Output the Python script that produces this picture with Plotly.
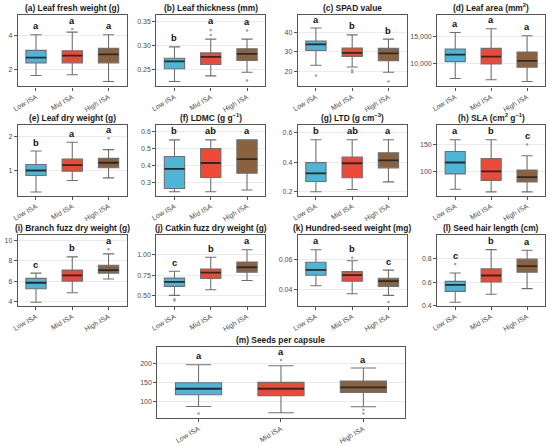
import plotly.graph_objects as go

# groups and fill colours
groups = ["Low ISA", "Mid ISA", "High ISA"]
colors = ["#4DB5D8", "#EE4836", "#8A6240"]

# box stats per group: [lower whisker, q1, median, q3, upper whisker]
leaf_fresh = [[1.67, 2.41, 2.72, 3.14, 4.06], [1.71, 2.41, 2.83, 3.12, 4.21], [1.32, 2.41, 2.91, 3.26, 4.06]]
leaf_fresh_out = [[], [4.39], []]
leaf_fresh_sig = ["a", "a", "a"]

leaf_thick = [[0.224, 0.251, 0.2664, 0.2733, 0.2972], [0.236, 0.260, 0.276, 0.2845, 0.3136], [0.2437, 0.2683, 0.2822, 0.2933, 0.3136]]
leaf_thick_out = [[], [0.333, 0.322], [0.332, 0.2262]]
leaf_thick_sig = ["b", "a", "a"]

spad = [[23.1, 30.7, 33.9, 35.6, 42.3], [22.2, 27.6, 29.5, 32.0, 38.8], [19.5, 25.5, 29.2, 31.8, 36.6]]
spad_out = [[17.8], [20.5, 19.5], [14.7]]
spad_sig = ["a", "b", "b"]

leaf_area = [[7340, 10420, 11680, 12710, 15720], [7100, 10000, 11320, 12820, 16390], [6800, 9390, 10540, 12170, 15120]]
leaf_area_out = [[], [], []]
leaf_area_sig = ["a", "a", "a"]

leaf_dry = [[0.36, 0.85, 1.0, 1.18, 1.58], [0.70, 0.98, 1.16, 1.34, 1.84], [0.78, 1.08, 1.23, 1.36, 1.62]]
leaf_dry_out = [[], [], [1.96]]
leaf_dry_sig = ["b", "a", "a"]

ldmc = [[0.247, 0.266, 0.381, 0.453, 0.55], [0.247, 0.33, 0.415, 0.50, 0.55], [0.257, 0.355, 0.437, 0.55, 0.55]]
ldmc_out = [[], [], []]
ldmc_sig = ["b", "ab", "a"]

ltd = [[0.20, 0.269, 0.324, 0.396, 0.55], [0.215, 0.294, 0.392, 0.433, 0.55], [0.267, 0.361, 0.411, 0.462, 0.55]]
ltd_out = [[], [], []]
ltd_sig = ["b", "ab", "a"]

sla = [[66, 95, 116.7, 137.6, 159.8], [61, 82.7, 100, 124, 159.8], [61, 79.6, 88.9, 102.5, 129.6]]
sla_out = [[], [], [151]]
sla_sig = ["a", "b", "c"]

branch_fuzz = [[3.97, 5.29, 5.87, 6.29, 6.81], [4.9, 6.03, 6.58, 7.1, 8.39], [6.23, 6.81, 7.1, 7.58, 8.68]]
branch_fuzz_out = [[], [], [9.13]]
branch_fuzz_sig = ["c", "b", "a"]

catkin_fuzz = [[0.504, 0.613, 0.669, 0.714, 0.798], [0.573, 0.709, 0.782, 0.826, 0.968], [0.685, 0.786, 0.847, 0.911, 1.06]]
catkin_fuzz_out = [[0.455, 0.44], [], []]
catkin_fuzz_sig = ["c", "b", "a"]

seed_weight = [[0.0422, 0.0493, 0.0529, 0.058, 0.0664], [0.0369, 0.0453, 0.0493, 0.0517, 0.059], [0.0358, 0.0418, 0.0453, 0.0473, 0.0527]]
seed_weight_out = [[], [0.061], [0.0313]]
seed_weight_sig = ["a", "b", "c"]

hair_length = [[0.428, 0.521, 0.577, 0.606, 0.677], [0.496, 0.60, 0.656, 0.712, 0.876], [0.544, 0.684, 0.735, 0.795, 0.871]]
hair_length_out = [[0.753], [], []]
hair_length_sig = ["c", "b", "a"]

seeds_capsule = [[85.7, 117, 133, 149.1, 197.3], [68.9, 114.5, 133, 150, 194.6], [85, 123.3, 136.7, 153.6, 188.4]]
seeds_capsule_out = [[67], [209.7], [77, 67]]
seeds_capsule_sig = ["a", "a", "a"]

# panel titles, y ranges and ticks
titles = ["(a) Leaf fresh weight (g)", "(b) Leaf thickness (mm)", "(c) SPAD value",
          "(d) Leaf area (mm<sup>2</sup>)", "(e) Leaf dry weight (g)", "(f) LDMC (g g<sup>\u22121</sup>)",
          "(g) LTD (g cm<sup>\u22123</sup>)", "(h) SLA (cm<sup>2</sup> g<sup>\u22121</sup>)",
          "(i) Branch fuzz dry weight (g)", "(j) Catkin fuzz dry weight (g)",
          "(k) Hundred-seed weight (mg)", "(l) Seed hair length (cm)", "(m) Seeds per capsule"]
stats = [leaf_fresh, leaf_thick, spad, leaf_area, leaf_dry, ldmc, ltd, sla,
         branch_fuzz, catkin_fuzz, seed_weight, hair_length, seeds_capsule]
outs = [leaf_fresh_out, leaf_thick_out, spad_out, leaf_area_out, leaf_dry_out, ldmc_out, ltd_out, sla_out,
        branch_fuzz_out, catkin_fuzz_out, seed_weight_out, hair_length_out, seeds_capsule_out]
sigs = [leaf_fresh_sig, leaf_thick_sig, spad_sig, leaf_area_sig, leaf_dry_sig, ldmc_sig, ltd_sig, sla_sig,
        branch_fuzz_sig, catkin_fuzz_sig, seed_weight_sig, hair_length_sig, seeds_capsule_sig]
y_ranges = [[1.03, 5.22], [0.2137, 0.3647], [12.15, 49.1], [5900, 18920], [0.25, 2.35], [0.224, 0.636],
            [0.174, 0.648], [53.7, 187.6], [3.61, 10.48], [0.375, 1.235], [0.0287, 0.076], [0.397, 0.997],
            [54.4, 245.5]]
y_ticks = [[2, 4], [0.25, 0.30, 0.35], [20, 30, 40], [10000, 15000], [1, 2], [0.3, 0.4, 0.5, 0.6],
           [0.2, 0.4, 0.6], [100, 150], [4, 6, 8, 10], [0.5, 0.75, 1.0], [0.04, 0.06], [0.4, 0.6, 0.8],
           [100, 150, 200]]
y_formats = ["d", ".2f", "d", ",d", "d", ".1f", ".1f", "d", "d", ".2f", ".2f", ".1f", "d"]

W, H = 550, 446
cols_px = [(12, 122), (152, 262), (295, 405), (436, 545)]
rows_px = [(15, 87), (126, 197), (237, 308)]
boxes_px = [(c, r) for r in rows_px for c in cols_px] + [((153, 403), (349, 421))]

font_fam = "Liberation Sans, Arial, sans-serif"
fig = go.Figure()
annotations = []
layout_axes = {}

for k in range(13):
    n = k + 1
    xa = "x" if n == 1 else "x%d" % n
    ya = "y" if n == 1 else "y%d" % n
    (x0, x1), (y0, y1) = boxes_px[k]
    dom_x = [x0 / W, x1 / W]
    dom_y = [1 - y1 / H, 1 - y0 / H]

    for i in range(3):
        lo, q1, med, q3, hi = stats[k][i]
        fig.add_trace(go.Box(x=[i], q1=[q1], median=[med], q3=[q3], lowerfence=[lo], upperfence=[hi],
                             width=0.56, whiskerwidth=0.55, fillcolor=colors[i], boxpoints=False,
                             line=dict(color="#707070", width=1.1), hoverinfo="skip",
                             xaxis=xa, yaxis=ya, showlegend=False))
        fig.add_trace(go.Scatter(x=[i - 0.28, i + 0.28], y=[med, med], mode="lines",
                                 line=dict(color="#2a2a2a", width=1.8), hoverinfo="skip",
                                 xaxis=xa, yaxis=ya, showlegend=False))
        if outs[k][i]:
            fig.add_trace(go.Scatter(x=[i] * len(outs[k][i]), y=outs[k][i], mode="markers",
                                     marker=dict(color="#a0a0a0", size=2.5), hoverinfo="skip",
                                     xaxis=xa, yaxis=ya, showlegend=False))
        top = max([hi] + outs[k][i])
        annotations.append(dict(x=i, y=top, xref=xa, yref=ya, text="<b>%s</b>" % sigs[k][i],
                                showarrow=False, yshift=8.5, xanchor="center", yanchor="middle",
                                font=dict(family=font_fam, size=9.3, color="#111111")))

    # panel title, centred on the panel
    annotations.append(dict(x=(dom_x[0] + dom_x[1]) / 2, y=dom_y[1], xref="paper", yref="paper",
                            text="<b>%s</b>" % titles[k], showarrow=False, xanchor="center",
                            yanchor="bottom", yshift=0, align="center",
                            font=dict(family=font_fam, size=8.4, color="#1a1a1a")))

    axis_common = dict(showline=True, mirror=True, linecolor="#555555", linewidth=1.2,
                       ticks="outside", ticklen=3, tickcolor="#555555", tickwidth=1,
                       tickfont=dict(family=font_fam, size=7, color="#4d4d4d"), zeroline=False)
    layout_axes["xaxis" if n == 1 else "xaxis%d" % n] = dict(
        domain=dom_x, anchor=ya, range=[-0.5, 2.5], tickvals=[0, 1, 2], ticktext=groups,
        tickangle=-30, showgrid=False, **axis_common)
    layout_axes["yaxis" if n == 1 else "yaxis%d" % n] = dict(
        domain=dom_y, anchor=xa, range=y_ranges[k], tickvals=y_ticks[k], tickformat=y_formats[k],
        showgrid=True, gridcolor="#ebebeb", gridwidth=0.8, **axis_common)

fig.update_layout(width=W, height=H, margin=dict(l=0, r=0, t=0, b=0),
                  paper_bgcolor="white", plot_bgcolor="white", showlegend=False,
                  boxmode="overlay", annotations=annotations, **layout_axes)

# drop the page's default body margin so the 550x446 figure fills the window
fig.write_html("out.html", config={"displayModeBar": False},
               post_script="document.body.style.margin='0';")
